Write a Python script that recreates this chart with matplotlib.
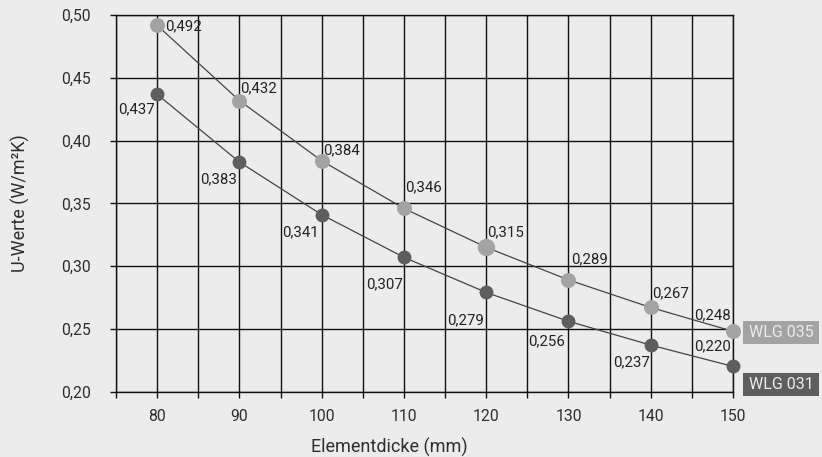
import matplotlib
matplotlib.use("Agg")
import matplotlib.pyplot as plt
from matplotlib.patches import Rectangle

# ---- data ----
dicke = [80, 90, 100, 110, 120, 130, 140, 150]
wlg035 = [0.492, 0.432, 0.384, 0.346, 0.315, 0.289, 0.267, 0.248]
wlg031 = [0.437, 0.383, 0.341, 0.307, 0.279, 0.256, 0.237, 0.220]
series_names = ["WLG 035", "WLG 031"]
x_ticks = [80, 90, 100, 110, 120, 130, 140, 150]
y_ticks = [0.20, 0.25, 0.30, 0.35, 0.40, 0.45, 0.50]

# ---- style ----
plt.rcParams['font.family'] = ['Roboto', 'DejaVu Sans']
BG = '#ececec'
LIGHT = '#a3a3a3'
DARK = '#5e5e5e'
TXT = '#2e2e2e'

W, H = 822, 457
fig = plt.figure(figsize=(W / 100, H / 100), dpi=100, facecolor=BG)
L, R, T, B = 116, 733, 15.3, 391.5
ax = fig.add_axes([L / W, 1 - B / H, (R - L) / W, (B - T) / H])
ax.set_facecolor(BG)

ax.set_xlim(75, 150)
ax.set_ylim(0.20, 0.50)

ax.set_xticks(x_ticks)
ax.set_xticks([t - 5 for t in x_ticks], minor=True)
ax.set_xticklabels([str(t) for t in x_ticks])
ax.set_yticks(y_ticks)
ax.set_yticklabels([f"{v:.2f}".replace('.', ',') for v in y_ticks])

ax.tick_params(axis='both', which='both', direction='out', length=4.3, width=1.0,
               color='#111111', labelcolor=TXT, labelsize=11.3)
ax.tick_params(axis='x', which='both', pad=8.5)
ax.tick_params(axis='y', which='both', pad=14)

ax.grid(True, which='both', color='#111111', linewidth=1.0)
ax.set_axisbelow(True)
for s in ax.spines.values():
    s.set_color('#111111')
    s.set_linewidth(1.0)

ax.set_xlabel("Elementdicke (mm)", fontsize=13, color=TXT, va='center')
ax.xaxis.set_label_coords((389.5 - L) / (R - L), (B - 447) / (B - T))
ax.set_ylabel("U-Werte (W/m²K)", fontsize=13, color=TXT, va='center')
ax.yaxis.set_label_coords((20 - L) / (R - L), 0.5)

# lines
ax.plot(dicke, wlg035, color='#444444', lw=0.9, zorder=3, clip_on=False)
ax.plot(dicke, wlg031, color='#444444', lw=0.9, zorder=3, clip_on=False)
# markers
sizes035 = [10.8] * len(dicke)
sizes035[4] = 12.5
for x, y, ms in zip(dicke, wlg035, sizes035):
    ax.plot([x], [y], 'o', color=LIGHT, ms=ms, mec='none', zorder=4, clip_on=False)
ax.plot(dicke, wlg031, 'o', color=DARK, ms=10, mec='none', zorder=4, clip_on=False)

# value labels (offsets in pixels)
off035 = [(8, -5, 'left'), (1, 8, 'left'), (1, 6, 'left'), (1, 17, 'left'),
          (1, 11, 'left'), (3, 17, 'left'), (1, 10, 'left'), (-2, 12, 'right')]
off031 = [(-2, -19, 'right'), (-2, -21, 'right'), (-3, -22, 'right'), (-1, -31, 'right'),
          (-2, -32, 'right'), (-3, -24, 'right'), (-1, -21, 'right'), (-2, 16, 'right')]
for xs, ys, offs in ((dicke, wlg035, off035), (dicke, wlg031, off031)):
    for x, y, (dx, dy, ha) in zip(xs, ys, offs):
        ax.annotate(f"{y:.3f}".replace('.', ','), (x, y), xytext=(dx, dy),
                    textcoords='offset pixels', ha=ha, va='baseline',
                    fontsize=10.8, color='#222222', zorder=5, annotation_clip=False)

# series label boxes
for name, col, top in ((series_names[0], LIGHT, 321), (series_names[1], DARK, 373)):
    fig.patches.append(Rectangle((743 / W, 1 - (top + 23) / H), 76 / W, 23 / H,
                                 transform=fig.transFigure, facecolor=col,
                                 edgecolor='none'))
    fig.text(781 / W, 1 - (top + 11.5) / H, name, ha='center', va='center',
             fontsize=11.5, color='#ececec')

fig.savefig("out.png", dpi=100, facecolor=BG)
